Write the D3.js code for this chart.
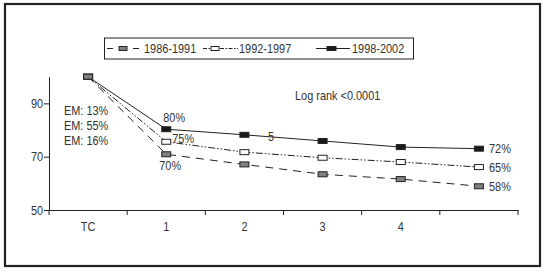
<!DOCTYPE html>
<html><head><meta charset="utf-8">
<script src="https://cdn.jsdelivr.net/npm/d3@7"></script>
<style>
body{margin:0;background:#fff;}
text{font-family:"Liberation Sans",Arial,sans-serif;fill:#333;}
</style></head>
<body><svg id="c" width="545" height="272"></svg>
<script>
const categories = ["TC","1","2","3","4",""];
const yTicks = [50,70,90];
const s1986 = [100,70.9,67.1,63.4,61.6,58.9];
const s1992 = [100,75.6,71.7,69.6,68.0,66.1];
const s1998 = [100,80.3,78.2,75.9,73.6,73.0];
const seriesNames = ["1986-1991","1992-1997","1998-2002"];
const emLabels = ["EM: 13%","EM: 55%","EM: 16%"];
const endLabels = ["58%","65%","72%"];
const firstLabels = ["70%","75%","80%"];

const SX = 0.84, FS = 13;
const svg = d3.select("#c");
function T(x, yy, str, fill){
  return svg.append("text").attr("transform",`translate(${x},${yy}) scale(${SX},1)`)
    .attr("font-size",FS).attr("fill",fill||"#333").text(str);
}
svg.append("rect").attr("x",5).attr("y",4).attr("width",535).attr("height",262)
  .attr("fill","none").attr("stroke","#222").attr("stroke-width",2.2);

const x = d3.scaleBand().domain(categories).range([49,518]).paddingInner(0).paddingOuter(0);
const y = d3.scaleLinear().domain([50,100]).range([210,76.7]);
const cx = c => x(c) + x.bandwidth()/2;

// y axis
const ya = svg.append("g").attr("transform","translate(49,0)")
  .call(d3.axisLeft(y).tickValues(yTicks).tickSize(5).tickPadding(2).tickSizeOuter(0));
ya.select(".domain").attr("stroke","#222");
ya.selectAll(".tick line").attr("stroke","#222");
ya.selectAll("text").attr("font-size",FS).attr("fill","#333")
  .attr("font-family","Liberation Sans, Arial, sans-serif")
  .attr("transform",`scale(${SX},1)`);

// x axis
const xa = svg.append("g").attr("transform","translate(0,210)")
  .call(d3.axisBottom(x).tickSize(0).tickPadding(12));
xa.select(".domain").attr("stroke","#222");
xa.selectAll("text").attr("font-size",FS).attr("fill","#333")
  .attr("font-family","Liberation Sans, Arial, sans-serif")
  .attr("transform",`scale(${SX},1)`);
const edges = categories.map(c => x(c)).concat([x(categories[categories.length-1]) + x.bandwidth()]);
svg.append("g").selectAll("line").data(edges).join("line")
  .attr("x1",d=>d).attr("x2",d=>d).attr("y1",210).attr("y2",215).attr("stroke","#222");

const series = [
  {name:seriesNames[0], vals:s1986, dash:"8,6", fill:"#808080"},
  {name:seriesNames[1], vals:s1992, dash:"7,2,1.5,2,1.5,2", fill:"#ffffff"},
  {name:seriesNames[2], vals:s1998, dash:null, fill:"#1a1a1a"}
];
const line = d3.line().x((d,i)=>cx(categories[i])).y(d=>y(d));
[2,1,0].forEach(k=>{
  const s = series[k];
  svg.append("path").datum(s.vals).attr("d",line).attr("fill","none")
    .attr("stroke","#222").attr("stroke-width",1)
    .attr("stroke-dasharray",s.dash);
});
[2,1,0].forEach(k=>{
  const s = series[k];
  svg.append("g").selectAll("rect").data(s.vals).join("rect")
    .attr("x",(d,i)=>cx(categories[i])-4.5).attr("y",d=>y(d)-2.5)
    .attr("width",9).attr("height",5)
    .attr("fill",s.fill).attr("stroke","#222").attr("stroke-width",1);
});

// legend
svg.append("rect").attr("x",104.5).attr("y",38).attr("width",309).attr("height",21)
  .attr("fill","#fff").attr("stroke","#222").attr("stroke-width",1);
const legY = 48.5;
svg.append("line").attr("x1",107).attr("x2",139).attr("y1",legY).attr("y2",legY)
  .attr("stroke","#222").attr("stroke-dasharray","6,7");
svg.append("rect").attr("x",119).attr("y",legY-2).attr("width",8).attr("height",4)
  .attr("fill","#808080").attr("stroke","#222");
T(144, legY+4.5, seriesNames[0]);
svg.append("line").attr("x1",203).attr("x2",238).attr("y1",legY).attr("y2",legY)
  .attr("stroke","#222").attr("stroke-dasharray","4,1.5,1.5,1.5");
svg.append("rect").attr("x",211).attr("y",legY-2).attr("width",8).attr("height",4)
  .attr("fill","#fff").attr("stroke","#222");
T(239, legY+4.5, seriesNames[1]);
svg.append("line").attr("x1",316).attr("x2",350).attr("y1",legY).attr("y2",legY)
  .attr("stroke","#222");
svg.append("rect").attr("x",327).attr("y",legY-2).attr("width",9).attr("height",4)
  .attr("fill","#1a1a1a").attr("stroke","#222");
T(352, legY+4.5, seriesNames[2]);

// annotations
T(295, 100, "Log rank <0.0001");
emLabels.forEach((d,i)=>T(64, 115+i*15, d));
const p1 = cx(categories[1]);
T(p1-3, y(s1998[1])-7, firstLabels[2]);
T(p1+6, y(s1992[1])+1.5, firstLabels[1]);
T(p1-7, y(s1986[1])+16, firstLabels[0]);
T(268, 141, "5", "#666");
const last = s1986.length-1;
[s1986,s1992,s1998].forEach((v,k)=>{
  T(489, y(v[last])+4.5, endLabels[k]);
});
</script></body></html>
